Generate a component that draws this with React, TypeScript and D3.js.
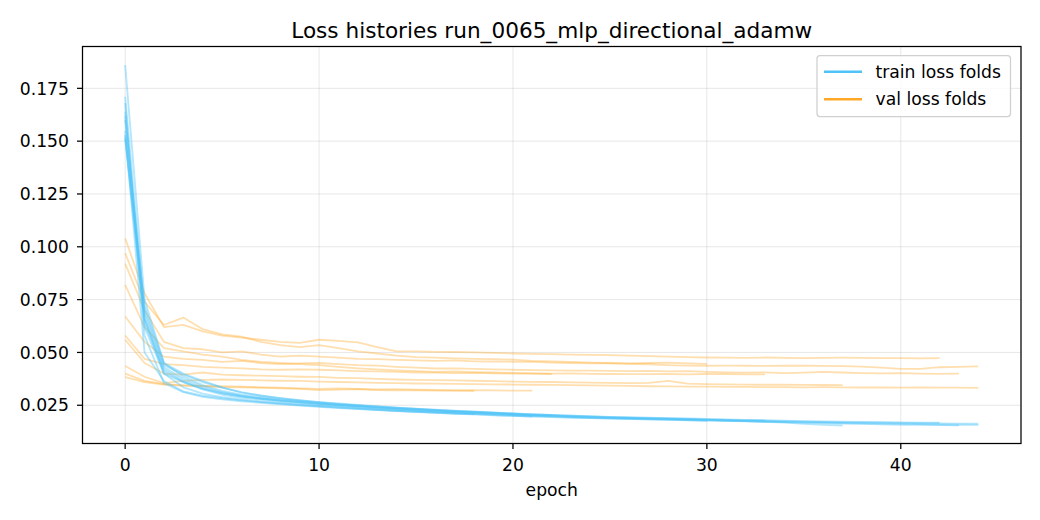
import React from "react";
import * as d3 from "d3";

const TITLE = "Loss histories run_0065_mlp_directional_adamw";
const X_LABEL = "epoch";
const X_TICKS = [0, 10, 20, 30, 40];
const Y_TICKS = [0.025, 0.05, 0.075, 0.1, 0.125, 0.15, 0.175];
const LEGEND = ["train loss folds", "val loss folds"];

const trainFolds: number[][] = [
  [0.186, 0.075, 0.045, 0.0385, 0.0345, 0.0318, 0.03, 0.0288, 0.0278, 0.027, 0.0262, 0.0255, 0.0249, 0.0243, 0.0238, 0.0233, 0.0228, 0.0223, 0.0219, 0.0215, 0.0211, 0.0207, 0.0204, 0.0201, 0.0198, 0.0195, 0.0193, 0.0191, 0.0189, 0.0187, 0.0185, 0.0183, 0.0181, 0.0179, 0.0177, 0.0175, 0.0173, 0.0172, 0.0171, 0.017, 0.0169, 0.0168, 0.0167],
  [0.171, 0.068, 0.043, 0.0375, 0.0338, 0.0312, 0.0295, 0.0283, 0.0274, 0.0266, 0.0258, 0.0252, 0.0246, 0.024, 0.0235, 0.023, 0.0225, 0.022, 0.0216, 0.0212, 0.0207, 0.0203, 0.02, 0.0197, 0.0194, 0.0191, 0.0189, 0.0187, 0.0185, 0.0183, 0.0181, 0.0179, 0.0177, 0.0176, 0.0174, 0.0172, 0.0171, 0.0169, 0.0168, 0.0167, 0.0166, 0.0165, 0.0164, 0.0163, 0.0163],
  [0.164, 0.062, 0.04, 0.036, 0.0325, 0.03, 0.0287, 0.0277, 0.0268, 0.026, 0.0252, 0.0246, 0.024, 0.0234, 0.0229, 0.0224, 0.0219, 0.0215, 0.0211, 0.0207, 0.0203, 0.0199, 0.0196, 0.0193, 0.019, 0.0188, 0.0186, 0.0184, 0.0182, 0.018, 0.0178, 0.0176, 0.0174, 0.0172, 0.017, 0.0168, 0.0166, 0.0164, 0.0162, 0.016, 0.0158, 0.0157, 0.0156, 0.0155],
  [0.162, 0.07, 0.044, 0.0395, 0.036, 0.0333, 0.0312, 0.0296, 0.0284, 0.0274, 0.0265, 0.0258, 0.0251, 0.0245, 0.0239, 0.0234, 0.0229, 0.0224, 0.022, 0.0216, 0.0211, 0.0207, 0.0204, 0.02, 0.0197, 0.0194, 0.0191, 0.0189, 0.0187, 0.0185, 0.0183, 0.0181, 0.0179, 0.0178],
  [0.155, 0.05, 0.0365, 0.0315, 0.0295, 0.0283, 0.0273, 0.0265, 0.0258, 0.0251, 0.0245, 0.0239, 0.0234, 0.0229, 0.0224, 0.022, 0.0216, 0.0212, 0.0208, 0.0204, 0.02, 0.0197, 0.0194, 0.0191, 0.0189, 0.0187, 0.0185, 0.0183, 0.0181, 0.0179, 0.0177],
  [0.153, 0.066, 0.042, 0.0365, 0.033, 0.0308, 0.0293, 0.0282, 0.0273, 0.0265, 0.0258, 0.0251, 0.0245, 0.0239, 0.0234, 0.0229, 0.0224, 0.022, 0.0216, 0.0212, 0.0208, 0.0204, 0.0201, 0.0198, 0.0195, 0.0192, 0.019, 0.0188, 0.0186, 0.0184, 0.0181, 0.0178, 0.0175, 0.0172, 0.0168, 0.0162, 0.0157, 0.0154],
  [0.151, 0.064, 0.041, 0.036, 0.0328, 0.0306, 0.0291, 0.028, 0.0271, 0.0263, 0.0255, 0.0248, 0.0242, 0.0236, 0.0231, 0.0226, 0.0221, 0.0217, 0.0212, 0.0208, 0.0204, 0.0201, 0.0198, 0.0195, 0.0192, 0.0189, 0.0187, 0.0185, 0.0183, 0.0181, 0.0179, 0.0177, 0.0175, 0.0173, 0.0171, 0.0169, 0.0168, 0.0166, 0.0165, 0.0163, 0.0162, 0.0161, 0.0159, 0.0158, 0.0157],
  [0.152, 0.072, 0.045, 0.04, 0.0365, 0.0335, 0.031, 0.0295, 0.0283, 0.0273, 0.0264, 0.0256, 0.0249, 0.0243, 0.0237, 0.0232, 0.0227, 0.0222, 0.0218, 0.0214, 0.021, 0.0206, 0.0203],
  [0.16, 0.066, 0.04, 0.0335, 0.0305, 0.0288, 0.0277, 0.0268, 0.026, 0.0253, 0.0246, 0.024, 0.0234, 0.0229, 0.0224, 0.0219, 0.0215, 0.0211, 0.0207, 0.0203, 0.02, 0.0197],
  [0.168, 0.058, 0.0355, 0.0312, 0.029, 0.0278, 0.0269, 0.0262, 0.0255, 0.0249, 0.0243, 0.0237, 0.0232, 0.0227, 0.0222, 0.0218, 0.0214, 0.021, 0.0207],
];

const valFolds: number[][] = [
  [0.104, 0.078, 0.062, 0.063, 0.06, 0.058, 0.057, 0.056, 0.055, 0.0545, 0.056, 0.0555, 0.0548, 0.0525, 0.0505, 0.0505, 0.0503, 0.0502, 0.05, 0.0498, 0.0495, 0.0493, 0.0492, 0.049, 0.0488, 0.0487, 0.0485, 0.0483, 0.048, 0.0478, 0.0476, 0.0475, 0.0474, 0.0476, 0.0474, 0.0473, 0.0474, 0.0475, 0.0474, 0.0473, 0.0473, 0.0472, 0.0473],
  [0.092, 0.07, 0.055, 0.052, 0.0515, 0.05, 0.0505, 0.049, 0.048, 0.0485, 0.048, 0.0475, 0.047, 0.0468, 0.0465, 0.0462, 0.046, 0.0462, 0.0458, 0.0457, 0.0456, 0.0455, 0.0452, 0.045, 0.0448, 0.0448, 0.0446, 0.0444, 0.044, 0.0438, 0.0437, 0.0438, 0.0437, 0.0436, 0.0438, 0.0437, 0.0436, 0.0435, 0.0433, 0.0428, 0.0422, 0.0422, 0.043, 0.0432, 0.0434],
  [0.067, 0.055, 0.048, 0.047, 0.0465, 0.0455, 0.046, 0.045, 0.0445, 0.0448, 0.045, 0.0445, 0.044, 0.0438, 0.0432, 0.0428, 0.0424, 0.0425, 0.0422, 0.042, 0.0418, 0.0416, 0.0415, 0.0414, 0.0414, 0.0413, 0.0412, 0.0413, 0.041, 0.0412, 0.0408, 0.0405, 0.0404, 0.0406, 0.0402, 0.0404, 0.0408, 0.0405, 0.0402, 0.0401, 0.0402, 0.04, 0.0399, 0.04],
  [0.082, 0.062, 0.052, 0.0505, 0.049, 0.048, 0.0465, 0.0455, 0.045, 0.0445, 0.044, 0.0432, 0.0425, 0.042, 0.0415, 0.0412, 0.0408, 0.041, 0.0407, 0.0405, 0.0403, 0.0402, 0.04, 0.0401, 0.0399, 0.0398, 0.0397, 0.0397, 0.0398, 0.0396, 0.0398, 0.0397, 0.0396, 0.0396],
  [0.097, 0.074, 0.063, 0.0665, 0.061, 0.0585, 0.0575, 0.055, 0.0535, 0.0525, 0.0535, 0.052, 0.0505, 0.0495, 0.0485, 0.0478, 0.0475, 0.0472, 0.047, 0.0468, 0.0466, 0.046, 0.0458, 0.0455, 0.0452, 0.045, 0.0448, 0.045, 0.0452, 0.0448, 0.0446],
  [0.056, 0.045, 0.04, 0.0395, 0.0405, 0.0395, 0.0392, 0.039, 0.0388, 0.0385, 0.0384, 0.038, 0.0378, 0.0375, 0.0372, 0.037, 0.0369, 0.0368, 0.0366, 0.0364, 0.0362, 0.0361, 0.036, 0.0358, 0.0357, 0.0356, 0.0355, 0.0356, 0.0365, 0.0352, 0.035, 0.0349, 0.0348, 0.0347, 0.0347, 0.0346, 0.0346, 0.0345],
  [0.0436, 0.0385, 0.0355, 0.0365, 0.037, 0.0372, 0.037, 0.0368, 0.0366, 0.0365, 0.0362, 0.036, 0.0358, 0.0356, 0.0355, 0.0353, 0.0352, 0.0351, 0.035, 0.0349, 0.0348, 0.0347, 0.0346, 0.0345, 0.0344, 0.0343, 0.0342, 0.034, 0.0339, 0.0338, 0.0338, 0.0337, 0.0337, 0.0336, 0.0336, 0.0335, 0.0336, 0.0335, 0.0334, 0.0334, 0.0333, 0.0334, 0.0333, 0.0333, 0.0332],
  [0.058, 0.047, 0.0445, 0.044, 0.0432, 0.0428, 0.0425, 0.042, 0.0418, 0.042, 0.0418, 0.0415, 0.0412, 0.041, 0.0408, 0.0405, 0.0404, 0.0402, 0.0403, 0.0401, 0.04, 0.0399, 0.0398],
  [0.04, 0.0365, 0.035, 0.0345, 0.0342, 0.034, 0.0338, 0.0335, 0.0333, 0.033, 0.0328, 0.033, 0.0327, 0.0325, 0.0326, 0.0324, 0.0323, 0.0322, 0.0321, 0.032, 0.0319, 0.0319],
  [0.0383, 0.036, 0.0348, 0.0342, 0.034, 0.0336, 0.0335, 0.0333, 0.033, 0.0328, 0.0322, 0.0324, 0.0326, 0.0322, 0.032, 0.0321, 0.0319, 0.0318, 0.0318],
];

const TRAIN_COLOR = "#4fc3f7";
const VAL_COLOR = "#ffa726";

export default function App() {
  const W = 1040;
  const H = 520;
  const m = { left: 82.5, right: 1021, top: 46.5, bottom: 443.5 };
  const x = d3.scaleLinear().domain([-2.2, 46.2]).range([m.left, m.right]);
  const y = d3.scaleLinear().domain([0.0069, 0.1948]).range([m.bottom, m.top]);
  const line = d3
    .line<number>()
    .x((_, i) => x(i))
    .y((d) => y(d));
  const font = "DejaVu Sans, sans-serif";
  const fmt = d3.format(".3f");
  const fs = 17.2;

  return (
    <svg
      width={W}
      height={H}
      style={{ position: "absolute", left: 0, top: 0, background: "#fff" }}
      fontFamily={font}
    >
      <defs>
        <clipPath id="plot">
          <rect x={m.left} y={m.top} width={m.right - m.left} height={m.bottom - m.top} />
        </clipPath>
      </defs>
      <rect x={0} y={0} width={W} height={H} fill="#fff" />
      <g stroke="#b0b0b0" strokeOpacity={0.3} strokeWidth={1}>
        {X_TICKS.map((t) => (
          <line key={"gx" + t} x1={x(t)} x2={x(t)} y1={m.top} y2={m.bottom} />
        ))}
        {Y_TICKS.map((t) => (
          <line key={"gy" + t} x1={m.left} x2={m.right} y1={y(t)} y2={y(t)} />
        ))}
      </g>
      <g clipPath="url(#plot)" fill="none" strokeLinejoin="round" strokeLinecap="butt">
        {valFolds.map((f, i) => (
          <path key={"v" + i} d={line(f) || ""} stroke={VAL_COLOR} strokeOpacity={0.37} strokeWidth={1.8} />
        ))}
        {trainFolds.map((f, i) => (
          <path key={"t" + i} d={line(f) || ""} stroke={TRAIN_COLOR} strokeOpacity={0.42} strokeWidth={1.9} />
        ))}
      </g>
      <rect
        x={m.left}
        y={m.top}
        width={m.right - m.left}
        height={m.bottom - m.top}
        fill="none"
        stroke="#000"
        strokeWidth={1.25}
      />
      {X_TICKS.map((t) => (
        <g key={"xt" + t}>
          <line x1={x(t)} x2={x(t)} y1={m.bottom} y2={m.bottom + 5.5} stroke="#000" strokeWidth={1.25} />
          <text x={x(t)} y={m.bottom + 27} textAnchor="middle" fontSize={fs} fill="#000">
            {t}
          </text>
        </g>
      ))}
      {Y_TICKS.map((t) => (
        <g key={"yt" + t}>
          <line x1={m.left - 5.5} x2={m.left} y1={y(t)} y2={y(t)} stroke="#000" strokeWidth={1.25} />
          <text x={m.left - 13.5} y={y(t) + 6.2} textAnchor="end" fontSize={fs} fill="#000">
            {fmt(t)}
          </text>
        </g>
      ))}
      <text x={(m.left + m.right) / 2} y={495.5} textAnchor="middle" fontSize={fs} fill="#000">
        {X_LABEL}
      </text>
      <text x={(m.left + m.right) / 2} y={37.6} textAnchor="middle" fontSize={21.6} fill="#000">
        {TITLE}
      </text>
      <g>
        <rect x={817} y={55.5} width={193.5} height={61} rx={3} fill="#fff" fillOpacity={0.8} stroke="#d0d0d0" strokeWidth={1.25} />
        <line x1={824} x2={862} y1={71.7} y2={71.7} stroke={TRAIN_COLOR} strokeWidth={2.5} />
        <line x1={824} x2={862} y1={99.3} y2={99.3} stroke={VAL_COLOR} strokeWidth={2.5} />
        <text x={875.5} y={77.7} fontSize={fs} fill="#000">
          {LEGEND[0]}
        </text>
        <text x={875.5} y={105.2} fontSize={fs} fill="#000">
          {LEGEND[1]}
        </text>
      </g>
    </svg>
  );
}
